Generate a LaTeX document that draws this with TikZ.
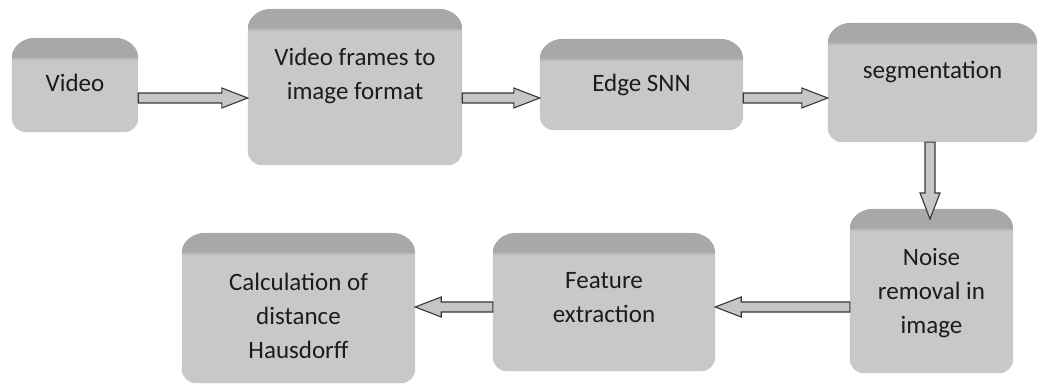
\documentclass[tikz,border=0pt]{standalone}
\usepackage{fontspec}
\setmainfont{Carlito}
\usetikzlibrary{calc,backgrounds}

\definecolor{bodygray}{RGB}{200,200,200}
\definecolor{bandgray}{RGB}{168,168,168}
\definecolor{arrowfill}{RGB}{198,198,198}
\definecolor{arrowline}{RGB}{55,55,55}
\definecolor{txt}{RGB}{28,28,28}

% label text, raised by #1, lines given as tabular rows
\newcommand\boxlabel[2]{\raisebox{#1}[0pt][0pt]{\begin{tabular}{@{}c@{}}#2\end{tabular}}}

% outline of a process block: large rounded top corners, smaller bottom ones
\newcommand\blockoutline{%
  ({\x1+24pt},\y1) -- ({\x2-24pt},\y1)
  arc[start angle=90,end angle=0,x radius=24pt,y radius=20pt]
  -- (\x2,{\y2+14pt}) arc[start angle=0,end angle=-90,radius=14pt]
  -- ({\x1+14pt},\y2) arc[start angle=270,end angle=180,radius=14pt]
  -- (\x1,{\y1-20pt}) arc[start angle=180,end angle=90,x radius=24pt,y radius=20pt]
  -- cycle}

% grey block with darker top band, drawn behind node #1
\newcommand\blockshape[1]{%
  \fill[bodygray] let \p1=(#1.north west), \p2=(#1.south east) in \blockoutline;
  \begin{scope}
    \clip let \p1=(#1.north west), \p2=(#1.south east) in \blockoutline;
    \fill[bandgray] let \p1=(#1.north west), \p2=(#1.south east) in
      (\x1,\y1) rectangle (\x2,{\y1-20pt});
    \fill[bodygray!60!bandgray] let \p1=(#1.north west), \p2=(#1.south east) in
      (\x1,{\y1-20pt}) rectangle (\x2,{\y1-22pt});
  \end{scope}}

\tikzset{
  block/.style={rectangle, inner sep=0pt, text=txt,
    font=\fontsize{25}{34}\selectfont},
  blockarrow/.style={draw=arrowline, fill=arrowfill, line width=1.1pt, line join=miter,
    to path={let \p1=(\tikztostart), \p2=(\tikztotarget),
      \n1={veclen(\x2-\x1,\y2-\y1)}, \n2={(\x2-\x1)/\n1}, \n3={(\y2-\y1)/\n1},
      \n4={\n1-26} in
      ({\x1-5*\n3},{\y1+5*\n2})
      -- ({\x1+\n4*\n2-5*\n3},{\y1+\n4*\n3+5*\n2})
      -- ({\x1+\n4*\n2-10*\n3},{\y1+\n4*\n3+10*\n2})
      -- (\x2,\y2)
      -- ({\x1+\n4*\n2+10*\n3},{\y1+\n4*\n3-10*\n2})
      -- ({\x1+\n4*\n2+5*\n3},{\y1+\n4*\n3-5*\n2})
      -- ({\x1+5*\n3},{\y1-5*\n2})
      -- cycle}}
}

\begin{document}
\begin{tikzpicture}[x=1pt,y=-1pt]
  \useasboundingbox (0,0) rectangle (1042,385);

  % process blocks
  \node[block, minimum width=126, minimum height=94]  (v)  at (75,85)    {\boxlabel{-6pt}{Video}};
  \node[block, minimum width=214, minimum height=156] (f)  at (355,87)   {\boxlabel{5pt}{Video frames to\\image format}};
  \node[block, minimum width=203, minimum height=91]  (e)  at (641.5,84.5) {\boxlabel{-6pt}{Edge SNN}};
  \node[block, minimum width=209, minimum height=119] (s)  at (932.5,82.5) {\boxlabel{5pt}{segmentation}};
  \node[block, minimum width=163, minimum height=164] (n)  at (931.5,291) {\boxlabel{-8pt}{Noise\\removal in\\image}};
  \node[block, minimum width=222, minimum height=138] (fe) at (604,302)   {\boxlabel{-3pt}{Feature\\extraction}};
  \node[block, minimum width=233, minimum height=150] (c)  at (298.5,308) {\boxlabel{-16pt}{Calculation of\\distance\\Hausdorff}};

  \begin{scope}[on background layer]
    \blockshape{v}
    \blockshape{f}
    \blockshape{e}
    \blockshape{s}
    \blockshape{n}
    \blockshape{fe}
    \blockshape{c}
  \end{scope}

  % connector levels
  \coordinate (row1) at (0,98);
  \coordinate (row2) at (0,307);
  \coordinate (downtip) at (930,219);

  \draw[blockarrow] (v.east |- row1) to (f.west |- row1);
  \draw[blockarrow] (f.east |- row1) to (e.west |- row1);
  \draw[blockarrow] (e.east |- row1) to (s.west |- row1);
  \draw[blockarrow] (s.south -| downtip) to (downtip);
  \draw[blockarrow] (n.west |- row2) to (fe.east |- row2);
  \draw[blockarrow] (fe.west |- row2) to (c.east |- row2);
\end{tikzpicture}
\end{document}
